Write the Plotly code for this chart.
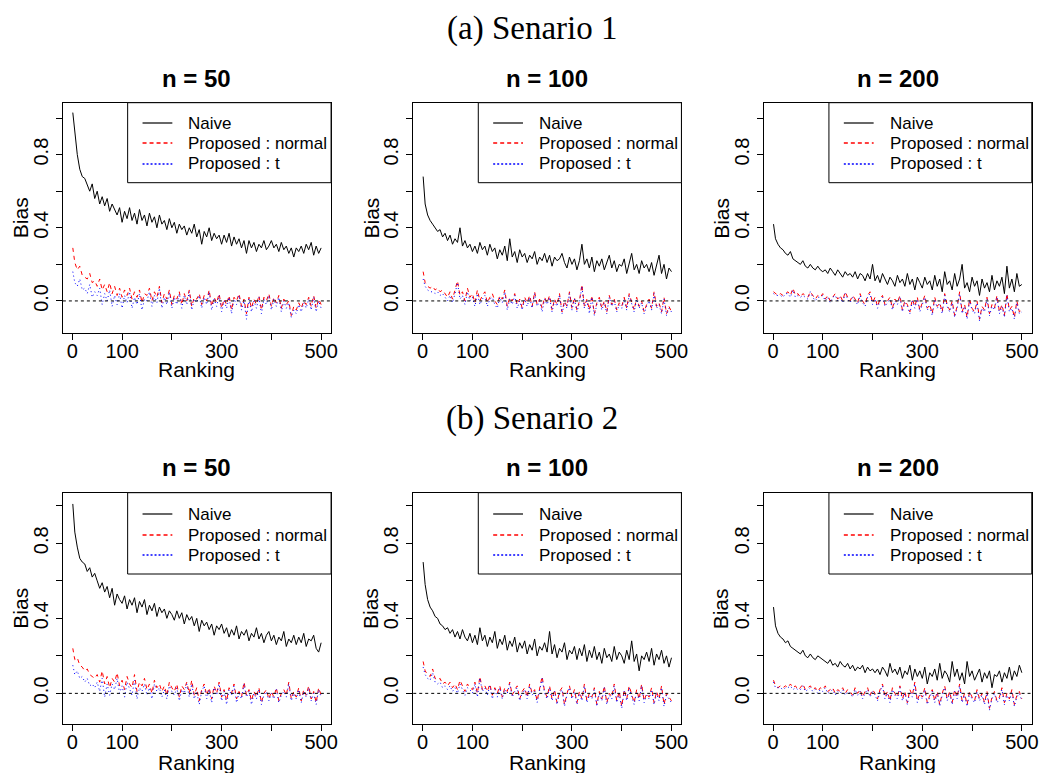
import plotly.graph_objects as go

# ---------------- data ----------------
ranking = [1] + list(range(5, 501, 5))

scenario_titles = ["(a) Senario 1", "(b) Senario 2"]
panel_titles = ["n = 50", "n = 100", "n = 200"]
legend_labels = ["Naive", "Proposed : normal", "Proposed : t"]
x_tick_vals = [0, 100, 200, 300, 400, 500]
x_tick_text = ["0", "100", "", "300", "", "500"]
y_tick_vals = [0.0, 0.2, 0.4, 0.6, 0.8, 1.0]
y_tick_text = ["0.0", "", "0.4", "", "0.8", ""]

s1_n50_naive = [1.03,
    0.92, 0.80, 0.72, 0.68, 0.67, 0.63, 0.60, 0.64, 0.56, 0.60,
    0.53, 0.57, 0.52, 0.56, 0.49, 0.53, 0.50, 0.47, 0.51, 0.43,
    0.49, 0.45, 0.51, 0.44, 0.48, 0.42, 0.50, 0.44, 0.47, 0.41,
    0.48, 0.43, 0.46, 0.40, 0.47, 0.42, 0.44, 0.39, 0.45, 0.40,
    0.43, 0.37, 0.42, 0.39, 0.41, 0.36, 0.40, 0.37, 0.42, 0.35,
    0.39, 0.31, 0.38, 0.35, 0.40, 0.33, 0.37, 0.34, 0.36, 0.31,
    0.36, 0.32, 0.37, 0.30, 0.35, 0.31, 0.34, 0.29, 0.33, 0.26,
    0.33, 0.29, 0.32, 0.27, 0.31, 0.29, 0.33, 0.28, 0.30, 0.33,
    0.29, 0.31, 0.27, 0.32, 0.28, 0.30, 0.26, 0.29, 0.24, 0.29,
    0.27, 0.30, 0.26, 0.31, 0.28, 0.32, 0.25, 0.30, 0.26, 0.29]
s1_n50_normal = [0.29,
    0.21, 0.17, 0.19, 0.14, 0.13, 0.12, 0.15, 0.10, 0.11, 0.08,
    0.12, 0.06, 0.09, 0.05, 0.10, 0.04, 0.08, 0.03, 0.07, 0.02,
    0.06, 0.03, 0.07, 0.01, 0.05, 0.02, 0.06, -0.01, 0.04, 0.03,
    0.07, 0.00, 0.05, 0.02, 0.08, -0.01, 0.04, 0.01, 0.06, -0.02,
    0.03, 0.01, 0.05, -0.02, 0.04, 0.00, 0.06, -0.03, 0.02, 0.01,
    0.04, -0.02, 0.03, 0.00, 0.06, -0.03, 0.02, -0.01, 0.04, -0.04,
    0.01, -0.02, 0.03, -0.05, 0.02, 0.00, 0.04, -0.03, 0.01, -0.07,
    0.02, -0.04, 0.01, -0.02, 0.03, -0.05, 0.02, 0.00, 0.04, -0.03,
    0.02, -0.01, 0.03, -0.04, 0.01, -0.02, 0.00, -0.08, -0.03, -0.05,
    -0.01, -0.04, 0.00, -0.02, 0.02, -0.03, 0.03, -0.04, 0.01, -0.02]
s1_n50_t = [0.16,
    0.10, 0.08, 0.12, 0.06, 0.07, 0.04, 0.09, 0.02, 0.05, 0.03,
    0.07, -0.02, 0.04, 0.00, 0.06, -0.03, 0.03, -0.02, 0.04, -0.04,
    0.03, -0.01, 0.05, -0.04, 0.02, -0.02, 0.04, -0.05, 0.01, 0.00,
    0.05, -0.03, 0.03, -0.01, 0.07, -0.04, 0.02, -0.02, 0.05, -0.04,
    0.02, -0.02, 0.04, -0.04, 0.03, -0.02, 0.05, -0.05, 0.01, -0.01,
    0.03, -0.04, 0.02, -0.02, 0.05, -0.05, 0.01, -0.03, 0.03, -0.06,
    0.00, -0.04, 0.02, -0.07, 0.01, -0.02, 0.03, -0.05, 0.00, -0.10,
    0.01, -0.06, 0.00, -0.04, 0.02, -0.07, 0.01, -0.02, 0.03, -0.05,
    0.01, -0.03, 0.02, -0.06, 0.00, -0.04, -0.01, -0.09, -0.05, -0.07,
    -0.02, -0.06, -0.01, -0.04, 0.01, -0.05, 0.02, -0.06, 0.00, -0.04]

s1_n100_naive = [0.68,
    0.53, 0.47, 0.44, 0.42, 0.40, 0.38, 0.39, 0.35, 0.37, 0.33,
    0.36, 0.31, 0.34, 0.32, 0.40, 0.30, 0.33, 0.29, 0.31, 0.27,
    0.30, 0.26, 0.32, 0.28, 0.30, 0.25, 0.31, 0.27, 0.29, 0.23,
    0.28, 0.25, 0.30, 0.22, 0.34, 0.24, 0.27, 0.21, 0.28, 0.24,
    0.26, 0.21, 0.25, 0.23, 0.27, 0.20, 0.24, 0.22, 0.26, 0.21,
    0.25, 0.19, 0.24, 0.22, 0.23, 0.26, 0.21, 0.18, 0.24, 0.20,
    0.23, 0.17, 0.22, 0.31, 0.20, 0.23, 0.18, 0.24, 0.16, 0.22,
    0.19, 0.23, 0.17, 0.21, 0.25, 0.18, 0.22, 0.16, 0.20, 0.19,
    0.23, 0.15, 0.21, 0.26, 0.17, 0.20, 0.15, 0.22, 0.18, 0.20,
    0.16, 0.21, 0.14, 0.19, 0.25, 0.15, 0.20, 0.12, 0.18, 0.16]
s1_n100_normal = [0.16,
    0.10, 0.08, 0.07, 0.08, 0.06, 0.07, 0.05, 0.06, 0.04, 0.02,
    0.05, 0.01, 0.06, 0.11, 0.03, 0.05, 0.00, 0.07, 0.02, 0.04,
    -0.01, 0.06, 0.00, 0.03, 0.05, -0.01, 0.02, 0.04, 0.00, -0.02,
    0.03, 0.01, 0.06, -0.03, 0.02, 0.00, 0.04, -0.02, 0.01, -0.04,
    0.02, -0.01, 0.03, -0.03, 0.05, -0.02, 0.01, -0.04, 0.02, -0.01,
    0.03, -0.05, 0.01, -0.02, 0.04, -0.06, 0.00, -0.03, 0.05, -0.04,
    0.02, -0.05, 0.00, 0.09, -0.03, 0.01, -0.05, 0.03, -0.07, -0.01,
    0.02, -0.04, 0.00, -0.06, 0.03, -0.02, 0.01, -0.05, -0.01, -0.03,
    0.02, -0.04, 0.04, -0.01, -0.05, 0.02, -0.03, 0.00, -0.06, -0.02,
    0.01, -0.04, 0.05, -0.03, -0.01, -0.06, 0.02, -0.07, -0.03, -0.06]
s1_n100_t = [0.12,
    0.08, 0.06, 0.05, 0.05, 0.04, 0.05, 0.03, 0.04, 0.02, 0.00,
    0.03, -0.01, 0.04, 0.10, 0.01, 0.03, -0.02, 0.05, 0.00, 0.02,
    -0.03, 0.04, -0.02, 0.01, 0.03, -0.03, 0.01, 0.02, -0.02, -0.04,
    0.02, -0.01, 0.05, -0.05, 0.01, -0.02, 0.03, -0.04, 0.00, -0.05,
    0.01, -0.03, 0.02, -0.04, 0.04, -0.03, 0.00, -0.06, 0.01, -0.02,
    0.02, -0.06, 0.00, -0.03, 0.03, -0.07, -0.01, -0.04, 0.04, -0.05,
    0.01, -0.06, -0.01, 0.08, -0.04, 0.00, -0.07, 0.02, -0.08, -0.02,
    0.01, -0.05, -0.01, -0.07, 0.02, -0.03, 0.00, -0.06, -0.02, -0.04,
    0.01, -0.05, 0.03, -0.02, -0.06, 0.01, -0.04, -0.01, -0.07, -0.03,
    0.00, -0.05, 0.04, -0.04, -0.02, -0.07, 0.01, -0.08, -0.04, -0.06]

s1_n200_naive = [0.42,
    0.34, 0.31, 0.29, 0.28, 0.26, 0.25, 0.27, 0.23, 0.22, 0.21,
    0.20, 0.22, 0.19, 0.18, 0.20, 0.18, 0.17, 0.19, 0.17, 0.16,
    0.17, 0.15, 0.18, 0.16, 0.14, 0.17, 0.15, 0.13, 0.16, 0.14,
    0.15, 0.13, 0.16, 0.12, 0.15, 0.14, 0.11, 0.15, 0.12, 0.20,
    0.11, 0.14, 0.10, 0.15, 0.12, 0.09, 0.13, 0.11, 0.08, 0.14,
    0.10, 0.12, 0.08, 0.15, 0.09, 0.12, 0.06, 0.13, 0.10, 0.07,
    0.13, 0.09, 0.11, 0.06, 0.14, 0.08, 0.12, 0.05, 0.16, 0.09,
    0.11, 0.06, 0.15, 0.08, 0.12, 0.20, 0.07, 0.10, 0.05, 0.13,
    0.08, 0.11, 0.03, 0.12, 0.07, 0.10, 0.05, 0.14, 0.06, 0.11,
    0.08, 0.13, 0.04, 0.19, 0.07, 0.12, 0.05, 0.15, 0.08, 0.09]
s1_n200_normal = [0.05,
    0.04, 0.03, 0.04, 0.03, 0.04, 0.05, 0.03, 0.07, 0.03, 0.04,
    0.02, 0.04, 0.03, 0.02, 0.05, 0.03, 0.01, 0.03, 0.02, 0.04,
    0.01, 0.03, 0.00, 0.02, 0.04, 0.01, 0.03, 0.00, 0.05, 0.02,
    0.00, 0.03, 0.01, -0.01, 0.04, 0.00, -0.02, 0.03, 0.05, -0.01,
    0.02, -0.03, 0.01, 0.03, -0.02, 0.00, 0.02, -0.04, 0.01, -0.01,
    0.03, -0.05, 0.00, -0.02, -0.06, 0.01, -0.03, 0.02, -0.05, -0.01,
    0.03, -0.04, -0.02, -0.07, 0.02, -0.03, -0.01, -0.06, 0.04, -0.02,
    -0.05, 0.00, -0.08, -0.03, 0.05, -0.06, -0.02, -0.09, 0.01, -0.04,
    -0.06, 0.00, -0.10, -0.03, -0.05, 0.02, -0.07, -0.02, -0.04, 0.03,
    -0.06, -0.02, -0.08, 0.04, -0.05, -0.03, -0.09, 0.00, -0.06, -0.05]
s1_n200_t = [0.04,
    0.03, 0.03, 0.03, 0.02, 0.04, 0.04, 0.02, 0.06, 0.02, 0.03,
    0.02, 0.03, 0.02, 0.01, 0.05, 0.02, 0.00, 0.02, 0.02, 0.03,
    0.00, 0.02, -0.01, 0.02, 0.03, 0.00, 0.02, -0.01, 0.04, 0.01,
    -0.01, 0.02, 0.00, -0.02, 0.03, -0.01, -0.03, 0.02, 0.04, -0.02,
    0.01, -0.04, 0.00, 0.02, -0.03, -0.01, 0.01, -0.05, 0.00, -0.02,
    0.02, -0.06, -0.01, -0.03, -0.07, 0.00, -0.04, 0.01, -0.06, -0.02,
    0.02, -0.05, -0.03, -0.08, 0.01, -0.04, -0.02, -0.07, 0.03, -0.03,
    -0.06, -0.01, -0.09, -0.04, 0.04, -0.07, -0.03, -0.10, 0.00, -0.05,
    -0.07, -0.01, -0.11, -0.04, -0.06, 0.01, -0.08, -0.03, -0.05, 0.02,
    -0.07, -0.03, -0.09, 0.03, -0.06, -0.04, -0.10, -0.01, -0.07, -0.06]

s2_n50_naive = [1.01,
    0.86, 0.78, 0.72, 0.70, 0.69, 0.65, 0.67, 0.62, 0.64, 0.60,
    0.56, 0.59, 0.54, 0.57, 0.51, 0.56, 0.47, 0.53, 0.50, 0.48,
    0.52, 0.45, 0.50, 0.47, 0.51, 0.43, 0.49, 0.46, 0.50, 0.42,
    0.47, 0.44, 0.48, 0.41, 0.46, 0.43, 0.45, 0.40, 0.44, 0.42,
    0.39, 0.44, 0.40, 0.43, 0.37, 0.42, 0.39, 0.41, 0.36, 0.40,
    0.33, 0.39, 0.36, 0.38, 0.34, 0.37, 0.31, 0.36, 0.34, 0.37,
    0.32, 0.35, 0.30, 0.34, 0.31, 0.36, 0.29, 0.33, 0.31, 0.34,
    0.28, 0.32, 0.30, 0.35, 0.29, 0.32, 0.27, 0.31, 0.33, 0.28,
    0.31, 0.26, 0.30, 0.28, 0.33, 0.25, 0.29, 0.27, 0.31, 0.26,
    0.30, 0.27, 0.32, 0.25, 0.29, 0.28, 0.31, 0.24, 0.22, 0.27]
s2_n50_normal = [0.24,
    0.18, 0.19, 0.15, 0.14, 0.12, 0.13, 0.10, 0.09, 0.08, 0.10,
    0.06, 0.12, 0.05, 0.09, 0.03, 0.08, 0.06, 0.11, 0.04, 0.07,
    0.02, 0.09, 0.05, 0.03, 0.10, 0.01, 0.06, 0.04, 0.08, 0.02,
    0.05, 0.00, 0.07, 0.03, 0.05, 0.01, 0.04, -0.01, 0.06, 0.03,
    0.01, 0.05, -0.02, 0.04, 0.02, 0.06, 0.00, 0.07, -0.01, 0.03,
    -0.04, 0.02, 0.05, -0.01, 0.03, -0.03, 0.04, 0.00, 0.06, -0.02,
    0.02, -0.04, 0.03, 0.00, 0.05, -0.03, 0.01, -0.02, 0.06, -0.01,
    0.02, -0.04, 0.01, -0.02, 0.03, -0.05, 0.00, 0.02, -0.03, 0.01,
    -0.02, 0.03, -0.04, 0.00, 0.02, -0.01, 0.06, -0.03, 0.01, -0.02,
    0.03, -0.04, 0.02, -0.01, 0.04, -0.03, 0.01, -0.05, 0.03, -0.01]
s2_n50_t = [0.15,
    0.10, 0.12, 0.08, 0.09, 0.06, 0.08, 0.04, 0.05, 0.03, 0.06,
    0.01, 0.08, -0.02, 0.05, -0.01, 0.05, 0.02, 0.08, 0.00, 0.04,
    -0.02, 0.06, 0.02, -0.01, 0.07, -0.03, 0.03, 0.01, 0.05, -0.01,
    0.03, -0.03, 0.05, 0.01, 0.03, -0.02, 0.02, -0.03, 0.04, 0.01,
    -0.01, 0.03, -0.04, 0.02, 0.00, 0.05, -0.02, 0.05, -0.03, 0.01,
    -0.06, 0.01, 0.04, -0.03, 0.02, -0.05, 0.03, -0.01, 0.05, -0.04,
    0.01, -0.06, 0.02, -0.01, 0.04, -0.05, 0.00, -0.03, 0.05, -0.02,
    0.01, -0.06, 0.00, -0.03, 0.02, -0.06, -0.01, 0.01, -0.04, 0.00,
    -0.03, 0.02, -0.05, -0.01, 0.01, -0.02, 0.05, -0.04, 0.00, -0.03,
    0.02, -0.05, 0.01, -0.02, 0.03, -0.04, 0.00, -0.06, 0.02, -0.02]

s2_n100_naive = [0.70,
    0.58, 0.50, 0.46, 0.44, 0.41, 0.40, 0.37, 0.36, 0.34, 0.35,
    0.32, 0.34, 0.30, 0.33, 0.29, 0.34, 0.30, 0.28, 0.32, 0.27,
    0.31, 0.26, 0.35, 0.28, 0.31, 0.25, 0.30, 0.27, 0.33, 0.24,
    0.29, 0.26, 0.31, 0.23, 0.28, 0.25, 0.30, 0.22, 0.27, 0.24,
    0.28, 0.21, 0.26, 0.23, 0.29, 0.20, 0.25, 0.23, 0.27, 0.22,
    0.33, 0.21, 0.26, 0.19, 0.24, 0.22, 0.27, 0.18, 0.23, 0.21,
    0.25, 0.18, 0.24, 0.20, 0.26, 0.17, 0.23, 0.19, 0.25, 0.18,
    0.22, 0.16, 0.24, 0.19, 0.21, 0.17, 0.25, 0.18, 0.22, 0.20,
    0.16, 0.23, 0.18, 0.28, 0.17, 0.21, 0.12, 0.20, 0.18, 0.22,
    0.17, 0.24, 0.15, 0.21, 0.18, 0.23, 0.16, 0.20, 0.14, 0.19]
s2_n100_normal = [0.17,
    0.12, 0.10, 0.09, 0.13, 0.08, 0.07, 0.08, 0.05, 0.06, 0.04,
    0.06, 0.03, 0.05, 0.02, 0.07, 0.04, 0.01, 0.05, 0.03, 0.02,
    0.06, 0.00, 0.09, 0.02, 0.04, 0.01, 0.05, -0.01, 0.03, 0.00,
    0.04, -0.02, 0.03, 0.01, 0.06, -0.01, 0.02, 0.04, -0.03, 0.01,
    0.03, -0.02, 0.05, 0.00, 0.02, -0.04, 0.03, 0.09, 0.01, -0.02,
    0.04, -0.03, 0.02, -0.05, 0.01, 0.03, -0.06, 0.00, 0.04, -0.02,
    0.02, -0.05, 0.01, -0.03, 0.05, -0.04, 0.00, -0.02, 0.03, -0.06,
    0.01, -0.03, 0.04, -0.05, 0.00, -0.02, 0.05, -0.04, 0.01, -0.07,
    0.02, -0.03, 0.04, -0.01, -0.05, 0.02, -0.03, 0.05, -0.04, 0.00,
    -0.02, 0.03, -0.05, 0.01, -0.03, 0.04, -0.06, 0.00, -0.02, -0.04]
s2_n100_t = [0.14,
    0.10, 0.08, 0.07, 0.11, 0.06, 0.05, 0.06, 0.03, 0.04, 0.02,
    0.04, 0.01, 0.03, 0.00, 0.05, 0.02, -0.01, 0.03, 0.02, 0.00,
    0.05, -0.02, 0.08, 0.01, 0.03, -0.01, 0.04, -0.03, 0.02, -0.02,
    0.03, -0.03, 0.02, 0.00, 0.05, -0.02, 0.01, 0.03, -0.04, 0.00,
    0.02, -0.03, 0.04, -0.01, 0.01, -0.05, 0.02, 0.08, 0.00, -0.03,
    0.03, -0.04, 0.01, -0.06, 0.00, 0.02, -0.07, -0.01, 0.03, -0.03,
    0.01, -0.06, 0.00, -0.04, 0.04, -0.05, -0.01, -0.03, 0.02, -0.07,
    0.00, -0.04, 0.03, -0.06, -0.01, -0.03, 0.04, -0.05, 0.00, -0.08,
    0.01, -0.04, 0.03, -0.02, -0.06, 0.01, -0.04, 0.04, -0.05, -0.01,
    -0.03, 0.02, -0.06, 0.00, -0.04, 0.03, -0.07, -0.01, -0.03, -0.05]

s2_n200_naive = [0.46,
    0.36, 0.32, 0.30, 0.29, 0.27, 0.28, 0.25, 0.24, 0.23, 0.22,
    0.21, 0.23, 0.20, 0.19, 0.21, 0.19, 0.18, 0.20, 0.19, 0.18,
    0.17, 0.16, 0.18, 0.15, 0.16, 0.14, 0.17, 0.15, 0.14, 0.16,
    0.13, 0.15, 0.12, 0.14, 0.13, 0.15, 0.11, 0.14, 0.12, 0.13,
    0.11, 0.13, 0.10, 0.14, 0.12, 0.09, 0.16, 0.11, 0.13, 0.10,
    0.14, 0.08, 0.12, 0.10, 0.15, 0.07, 0.13, 0.09, 0.12, 0.08,
    0.14, 0.05, 0.11, 0.09, 0.13, 0.07, 0.16, 0.08, 0.12, 0.10,
    0.06, 0.17, 0.09, 0.13, 0.07, 0.11, 0.05, 0.17, 0.09, 0.12,
    0.07, 0.10, 0.13, 0.06, 0.11, 0.08, 0.12, 0.03, 0.10, 0.09,
    0.12, 0.06, 0.11, 0.08, 0.14, 0.07, 0.12, 0.09, 0.15, 0.11]
s2_n200_normal = [0.07,
    0.04, 0.03, 0.04, 0.03, 0.04, 0.03, 0.05, 0.03, 0.04, 0.02,
    0.03, 0.05, 0.02, 0.03, 0.04, 0.02, 0.03, 0.01, 0.03, 0.02,
    0.04, 0.01, 0.02, 0.03, 0.00, 0.02, 0.01, 0.03, 0.00, 0.02,
    0.01, -0.01, 0.03, 0.00, 0.02, -0.02, 0.01, 0.03, -0.01, 0.02,
    0.00, -0.03, 0.02, 0.05, -0.02, 0.01, -0.04, 0.03, 0.00, -0.02,
    0.04, -0.03, 0.01, -0.05, 0.02, -0.01, 0.06, -0.04, 0.00, -0.02,
    0.03, -0.05, -0.01, 0.02, -0.04, 0.01, -0.06, 0.00, 0.04, -0.03,
    0.01, -0.05, 0.02, -0.02, 0.05, -0.04, 0.00, -0.06, 0.01, -0.02,
    -0.04, 0.02, -0.03, 0.00, -0.05, 0.01, -0.08, -0.02, 0.01, -0.04,
    -0.02, 0.03, -0.05, 0.00, -0.03, 0.02, -0.06, -0.01, 0.01, -0.03]
s2_n200_t = [0.06,
    0.03, 0.03, 0.03, 0.02, 0.03, 0.03, 0.04, 0.02, 0.03, 0.02,
    0.02, 0.04, 0.01, 0.02, 0.03, 0.01, 0.02, 0.00, 0.02, 0.01,
    0.03, 0.00, 0.01, 0.02, -0.01, 0.01, 0.00, 0.02, -0.01, 0.01,
    0.00, -0.02, 0.02, -0.01, 0.01, -0.03, 0.00, 0.02, -0.02, 0.01,
    -0.01, -0.04, 0.01, 0.04, -0.03, 0.00, -0.05, 0.02, -0.01, -0.03,
    0.03, -0.04, 0.00, -0.06, 0.01, -0.02, 0.05, -0.05, -0.01, -0.03,
    0.02, -0.06, -0.02, 0.01, -0.05, 0.00, -0.07, -0.01, 0.03, -0.04,
    0.00, -0.06, 0.01, -0.03, 0.04, -0.05, -0.01, -0.07, 0.00, -0.03,
    -0.05, 0.01, -0.04, -0.01, -0.06, 0.00, -0.09, -0.03, 0.00, -0.05,
    -0.03, 0.02, -0.06, -0.01, -0.04, 0.01, -0.07, -0.02, 0.00, -0.04]

panels = [
    [(s1_n50_naive, s1_n50_normal, s1_n50_t),
     (s1_n100_naive, s1_n100_normal, s1_n100_t),
     (s1_n200_naive, s1_n200_normal, s1_n200_t)],
    [(s2_n50_naive, s2_n50_normal, s2_n50_t),
     (s2_n100_naive, s2_n100_normal, s2_n100_t),
     (s2_n200_naive, s2_n200_normal, s2_n200_t)],
]

# ---------------- layout geometry (pixels) ----------------
W, H = 1049, 773
panel_left = [63.3, 416.0, 768.7]
panel_w = 270.0
row_top = [102.7, 492.7]
row_bottom = [333.3, 724.3]
row_yrange = [[-0.177, 1.084], [-0.165, 1.070]]
x_range = [-18.96, 519.96]
title_y = [28, 418]
panel_title_y = [78, 468]
ranking_label_y = [370, 762]
legend_rows_px = [[123, 143, 164], [514, 535, 555]]

SANS = "Liberation Sans, Arial, Helvetica, sans-serif"
SERIF = "Liberation Serif, Times New Roman, serif"


def px(x):
    return x / W


def py(y):
    return 1 - y / H


styles = [dict(color="black", width=1),
          dict(color="red", width=1, dash="4px,4px"),
          dict(color="blue", width=1, dash="1px,3px")]
legend_styles = [dict(color="black", width=1.2),
                 dict(color="#ff0000", width=1.3, dash="4px,3px"),
                 dict(color="#0000ff", width=1.3, dash="2px,2px")]

fig = go.Figure()
shapes = []
annotations = []
layout_axes = {}

for r in range(2):
    annotations.append(dict(text=scenario_titles[r], x=px(536), y=py(title_y[r]),
                            xref="paper", yref="paper", showarrow=False,
                            xanchor="center", yanchor="middle",
                            font=dict(family=SERIF, size=33, color="black")))
    for c in range(3):
        k = r * 3 + c + 1
        sfx = "" if k == 1 else str(k)
        left = panel_left[c]
        right = left + panel_w
        top, bottom = row_top[r], row_bottom[r]
        for series, st in zip(panels[r][c], styles):
            n = min(len(series), len(ranking))
            fig.add_trace(go.Scatter(x=ranking[:n], y=series[:n], mode="lines",
                                     line=dict(st), showlegend=False, hoverinfo="skip",
                                     xaxis="x" + sfx, yaxis="y" + sfx))
        layout_axes["xaxis" + sfx] = dict(
            domain=[px(left), px(right)], range=x_range, anchor="y" + sfx,
            showline=True, mirror=True, linecolor="black", linewidth=1,
            ticks="outside", ticklen=6, tickwidth=1, tickcolor="black",
            tickmode="array", tickvals=x_tick_vals, ticktext=x_tick_text,
            ticklabelstandoff=-6,
            tickfont=dict(family=SANS, size=20, color="black"),
            showgrid=False, zeroline=False, fixedrange=True)
        layout_axes["yaxis" + sfx] = dict(
            domain=[py(bottom), py(top)], range=row_yrange[r], anchor="x" + sfx,
            showline=True, mirror=True, linecolor="black", linewidth=1,
            ticks="outside", ticklen=6, tickwidth=1, tickcolor="black",
            tickmode="array", tickvals=y_tick_vals, ticktext=y_tick_text,
            tickangle=-90, ticklabelstandoff=0,
            tickfont=dict(family=SANS, size=20, color="black"),
            showgrid=False, zeroline=False, fixedrange=True)
        # zero reference line
        shapes.append(dict(type="line", xref="x" + sfx + " domain", x0=0, x1=1,
                           yref="y" + sfx, y0=0, y1=0,
                           line=dict(color="black", width=1, dash="3px,3px")))
        # panel title
        annotations.append(dict(text="<b>" + panel_titles[c] + "</b>",
                                x=px(left + panel_w / 2), y=py(panel_title_y[r]),
                                xref="paper", yref="paper", showarrow=False,
                                xanchor="center", yanchor="middle",
                                font=dict(family=SANS, size=24, color="black")))
        # axis titles
        annotations.append(dict(text="Bias", textangle=-90,
                                x=px(left - 43), y=py((top + bottom) / 2),
                                xref="paper", yref="paper", showarrow=False,
                                xanchor="center", yanchor="middle",
                                font=dict(family=SANS, size=21, color="black")))
        annotations.append(dict(text="Ranking",
                                x=px(left + panel_w / 2), y=py(ranking_label_y[r]),
                                xref="paper", yref="paper", showarrow=False,
                                xanchor="center", yanchor="middle",
                                font=dict(family=SANS, size=21, color="black")))
        # legend box
        lg_left = round(right - 205) + 0.5
        lg_h = 80 if r == 0 else 81.3
        shapes.append(dict(type="rect", xref="paper", yref="paper",
                           x0=px(lg_left), x1=px(right), y0=py(top + lg_h), y1=py(top),
                           line=dict(color="black", width=1), fillcolor="white",
                           layer="above"))
        for lab, st, ypx in zip(legend_labels, legend_styles, legend_rows_px[r]):
            yy = py(ypx)
            shapes.append(dict(type="line", xref="paper", yref="paper",
                               x0=px(lg_left + 15), x1=px(lg_left + 45), y0=yy, y1=yy,
                               line=dict(st), layer="above"))
            annotations.append(dict(text=lab, x=px(lg_left + 59), y=yy,
                                    xref="paper", yref="paper", showarrow=False,
                                    xanchor="left", yanchor="middle",
                                    font=dict(family=SANS, size=17, color="black")))

fig.update_layout(
    width=W, height=H, margin=dict(l=0, r=0, t=0, b=0),
    paper_bgcolor="white", plot_bgcolor="white",
    showlegend=False, shapes=shapes, annotations=annotations,
    **layout_axes)

fig.write_html("out.html",
               config={"displayModeBar": False},
               post_script="document.body.style.margin='0';"
                           "document.body.style.overflow='hidden';")
